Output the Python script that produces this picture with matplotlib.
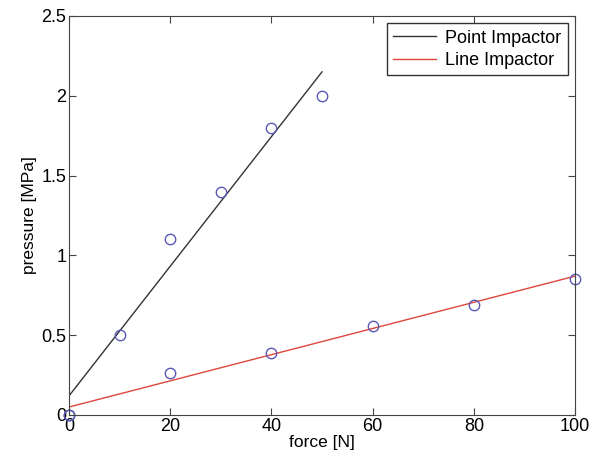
import matplotlib.pyplot as plt

plt.rcParams['font.family'] = ['Liberation Sans', 'DejaVu Sans']

# measured data
point_force = [0, 10, 20, 30, 40, 50]
point_pressure = [0, 0.5, 1.1, 1.4, 1.8, 2.0]
line_force = [0, 20, 40, 60, 80, 100]
line_pressure = [0, 0.26, 0.39, 0.56, 0.69, 0.85]

# linear fits (endpoints)
point_fit_x = [0, 50]
point_fit_y = [0.12, 2.15]
line_fit_x = [0, 100]
line_fit_y = [0.05, 0.87]

fig = plt.figure(figsize=(5.92, 4.61), dpi=100)
ax = fig.add_axes([0.1166, 0.0998, 0.8547, 0.8655])

ax.plot(point_fit_x, point_fit_y, color='#333333', lw=1.0, label='Point Impactor')
ax.plot(line_fit_x, line_fit_y, color='#e0463c', lw=1.0, label='Line Impactor')
ax.plot(point_force, point_pressure, 'o', mfc='none', mec='#5a5ab4', ms=7.5, mew=1.0,
        clip_on=False)
ax.plot(line_force, line_pressure, 'o', mfc='none', mec='#5a5ab4', ms=7.5, mew=1.0,
        clip_on=False)

ax.set_xlim(0, 100)
ax.set_ylim(0, 2.5)
ax.set_xticks([0, 20, 40, 60, 80, 100])
ax.set_yticks([0, 0.5, 1, 1.5, 2, 2.5])
ax.set_yticklabels(['0', '0.5', '1', '1.5', '2', '2.5'])
ax.tick_params(direction='in', top=True, right=True, labelsize=13, length=5,
               color='#444444', pad=2)
for s in ax.spines.values():
    s.set_color('#444444')

ax.set_xlabel('force [N]', fontsize=12.5, labelpad=0)
ax.set_ylabel('pressure [MPa]', fontsize=12.5, labelpad=3)

leg = ax.legend(loc='upper right', fontsize=13, fancybox=False, framealpha=1,
                borderpad=0.35, labelspacing=0.3, handlelength=2.4,
                handletextpad=0.5, borderaxespad=0.4)
leg.get_frame().set_edgecolor('#333333')
leg.get_frame().set_linewidth(1.0)

fig.savefig('out.png')
